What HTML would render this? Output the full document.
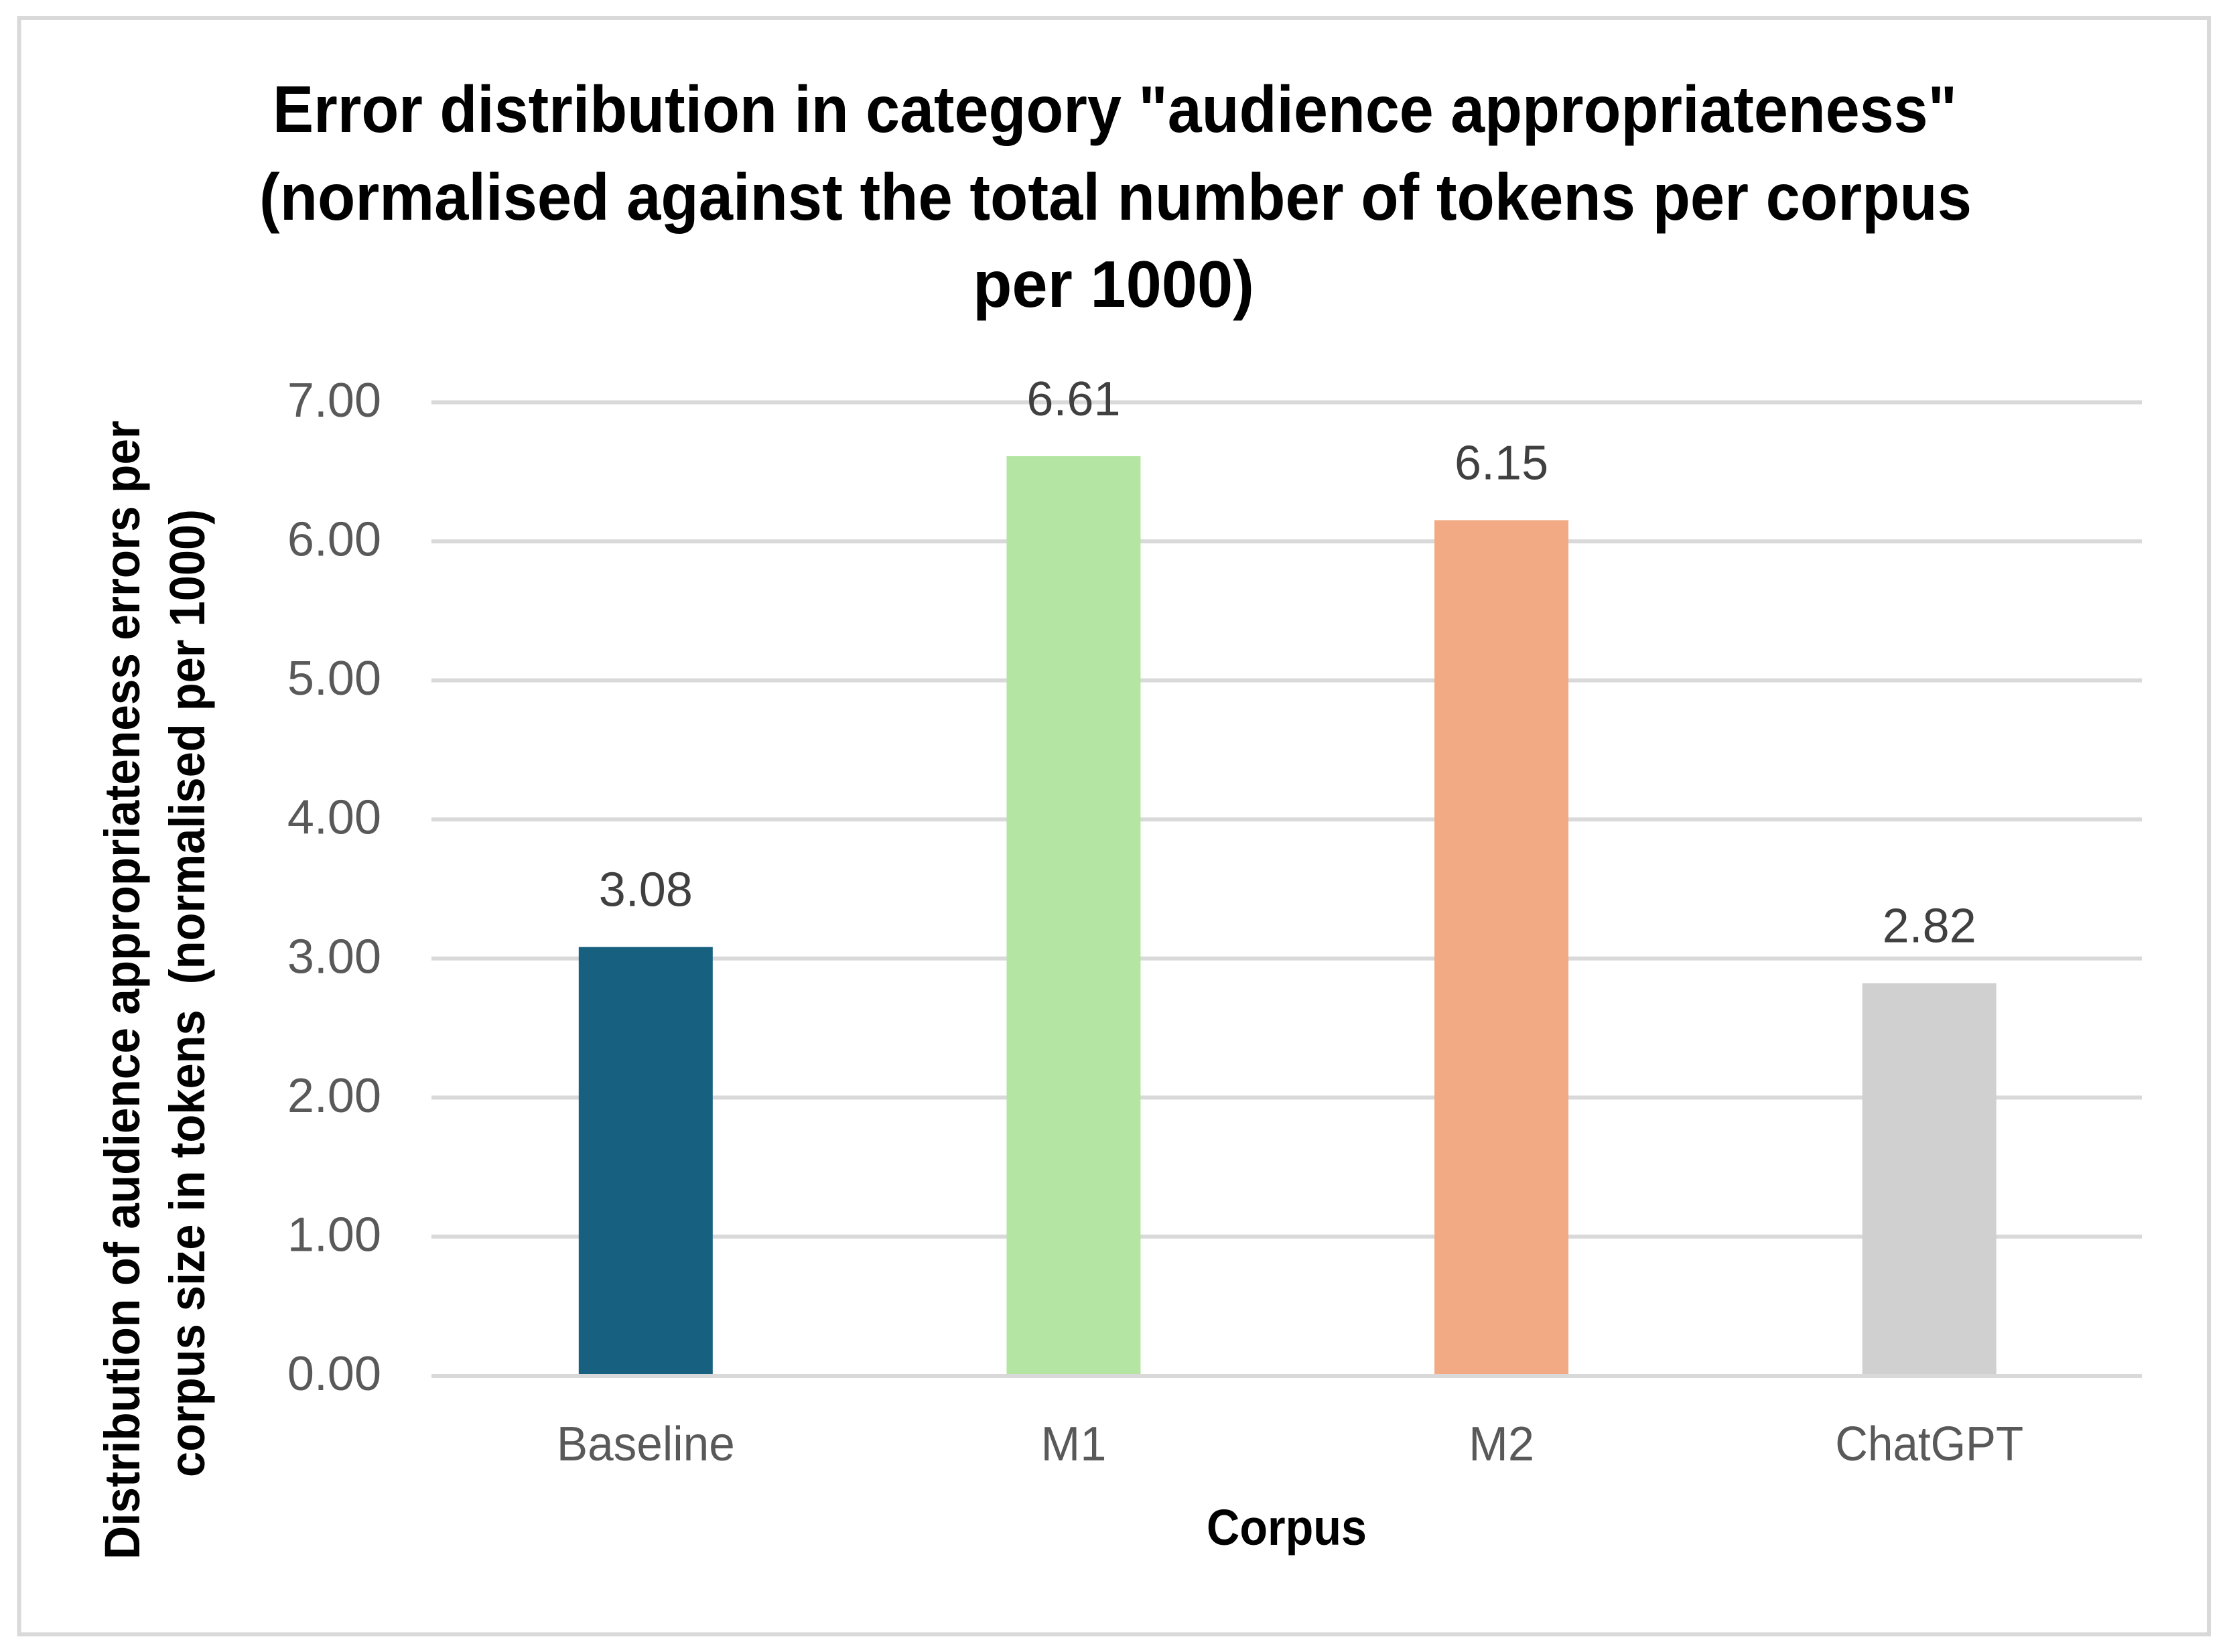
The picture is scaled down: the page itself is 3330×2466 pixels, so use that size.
<!DOCTYPE html>
<html lang="en">
<head>
<meta charset="utf-8">
<title>Error distribution in category audience appropriateness</title>
<style>
html,body{margin:0;padding:0;background:#fff;}
svg{display:block;}
text{font-family:"Liberation Sans",Arial,sans-serif;}
</style>
</head>
<body>
<svg id="chart" xmlns="http://www.w3.org/2000/svg" width="3330" height="2466" viewBox="0 0 3330 2466">
  <rect x="0" y="0" width="3330" height="2466" fill="#ffffff"/>
  <rect x="28.5" y="27" width="3268.5" height="2412.5" fill="#ffffff" stroke="#d9d9d9" stroke-width="6"/>
  <g font-weight="700" font-size="98" fill="#000000">
    <text x="407" y="197" textLength="2514" lengthAdjust="spacingAndGlyphs">Error distribution in category "audience appropriateness"</text>
    <text x="387" y="328" textLength="2556" lengthAdjust="spacingAndGlyphs">(normalised against the total number of tokens per corpus</text>
    <text x="1452" y="458" textLength="420" lengthAdjust="spacingAndGlyphs">per 1000)</text>
  </g>
  <g id="grid"></g>
  <g id="bars"></g>
  <g id="axis"></g>
  <g id="yticks"></g>
  <g id="xticks"></g>
  <g id="values"></g>
  <text x="1801" y="2306" font-size="75" font-weight="700" fill="#000000" textLength="239" lengthAdjust="spacingAndGlyphs">Corpus</text>
  <g font-weight="700" font-size="74" fill="#000000">
    <text transform="translate(208,2328) rotate(-90)" x="0" y="0" textLength="1700" lengthAdjust="spacingAndGlyphs">Distribution of audience appropriateness errors per</text>
    <text transform="translate(305,2205) rotate(-90)" x="0" y="0" textLength="1445" lengthAdjust="spacingAndGlyphs" xml:space="preserve">corpus size in tokens  (normalised per 1000)</text>
  </g>
</svg>
<script>
const categories = ['Baseline', 'M1', 'M2', 'ChatGPT'];
const seriesValues = [3.08, 6.61, 6.15, 2.82];
const tickValues = [0, 1, 2, 3, 4, 5, 6, 7];
const barColors = ['#17607f', '#b4e5a2', '#f2aa84', '#d0d0d0'];
const categoryLabelWidths = [266, 98, 98, 281];

const NS = 'http://www.w3.org/2000/svg';
const plotLeft = 644, plotRight = 3197, bandRight = 3198.5, y0 = 2053, y7 = 600, barWidth = 200;
const yMax = tickValues[tickValues.length - 1];

function yScale(v) { return y0 - (v / yMax) * (y0 - y7); }
function xScale(i) { return plotLeft + 0.5 + (bandRight - plotLeft) * (i + 0.5) / categories.length; }
function make(tag, parentId, attrs, text) {
  const el = document.createElementNS(NS, tag);
  for (const k in attrs) el.setAttribute(k, attrs[k]);
  if (text !== undefined) el.textContent = text;
  document.getElementById(parentId).appendChild(el);
  return el;
}

tickValues.forEach(function (t) {
  if (t !== 0) {
    const line = make('line', 'grid', { x1: plotLeft, x2: plotRight, y1: yScale(t) + 0.5, y2: yScale(t) + 0.5, stroke: '#d9d9d9', 'stroke-width': 6 });
    
    
  }
  const label = make('text', 'yticks', { x: 569, y: yScale(t) + 22, 'text-anchor': 'end', 'font-size': 72, fill: '#595959' }, t.toFixed(2));
  
  
});

const axisLine = make('line', 'axis', { x1: plotLeft, x2: plotRight, y1: y0 + 1, y2: y0 + 1, stroke: '#d9d9d9', 'stroke-width': 6 });



categories.forEach(function (c, i) {
  const v = seriesValues[i];
  const cx = xScale(i);
  const bar = make('rect', 'bars', { x: cx - barWidth / 2, y: yScale(v), width: barWidth, height: y0 - yScale(v), fill: barColors[i] });
  
  

  const val = make('text', 'values', { x: cx, y: yScale(v) - 61, 'text-anchor': 'middle', 'font-size': 72, fill: '#404040' }, v.toFixed(2));
  
  

  const cat = make('text', 'xticks', { x: cx, y: 2180, 'text-anchor': 'middle', 'font-size': 72, textLength: categoryLabelWidths[i], lengthAdjust: 'spacingAndGlyphs', fill: '#595959' }, c);
  
  
});
</script>
</body>
</html>
